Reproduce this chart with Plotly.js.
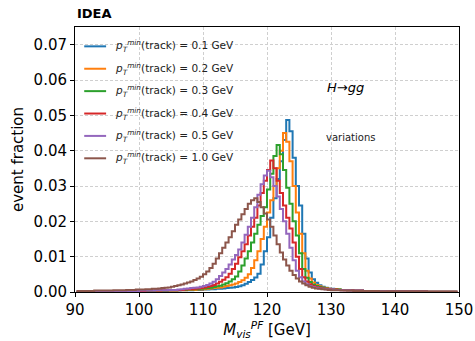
<!DOCTYPE html>
<html>
<head>
<meta charset="utf-8">
<script src="https://cdn.plot.ly/plotly-3.0.1.min.js"></script>
<style>
  html, body { margin: 0; padding: 0; background: #fff; }
  #chart { width: 475px; height: 341px; }
</style>
</head>
<body>
<div id="chart"></div>
<script>
// Histogram binning (GeV)
const binStart = 90;
const binWidth = 0.5;

const seriesLabels = ["0.1", "0.2", "0.3", "0.4", "0.5", "1.0"];
const seriesColors = ["#1f77b4", "#ff7f0e", "#2ca02c", "#d62728", "#9467bd", "#8c564b"];

// event fraction per 0.5 GeV bin, 90 -> 150 GeV (10 bins per row = 5 GeV)
const pt01 = [
  0.0001,0.0001,0.0001,0.0001,0.0001,0.0001,0.0001,0.0001,0.0001,0.0001,
  0.0001,0.0001,0.0001,0.0001,0.0002,0.0002,0.0002,0.0002,0.0002,0.0002,
  0.0002,0.0002,0.0002,0.0003,0.0003,0.0003,0.0003,0.0003,0.0003,0.0004,
  0.0004,0.0004,0.0004,0.0005,0.0005,0.0005,0.0005,0.0006,0.0006,0.0006,
  0.0007,0.0007,0.0008,0.0008,0.0009,0.0009,0.0010,0.0011,0.0012,0.0013,
  0.0014,0.0016,0.0019,0.0023,0.0028,0.0034,0.0041,0.0052,0.0078,0.0115,
  0.0155,0.0210,0.0265,0.0320,0.0370,0.0430,0.0487,0.0455,0.0380,0.0300,
  0.0245,0.0165,0.0095,0.0055,0.0036,0.0026,0.0019,0.0015,0.0012,0.0010,
  0.0009,0.0008,0.0007,0.0006,0.0006,0.0005,0.0005,0.0004,0.0004,0.0004,
  0.0003,0.0003,0.0003,0.0003,0.0003,0.0003,0.0003,0.0002,0.0002,0.0002,
  0.0002,0.0002,0.0002,0.0002,0.0002,0.0002,0.0002,0.0002,0.0002,0.0002,
  0.0001,0.0001,0.0001,0.0001,0.0001,0.0001,0.0001,0.0001,0.0001,0.0001
];
const pt02 = [
  0.0001,0.0001,0.0001,0.0001,0.0001,0.0001,0.0001,0.0001,0.0001,0.0001,
  0.0001,0.0001,0.0002,0.0002,0.0002,0.0002,0.0002,0.0002,0.0002,0.0002,
  0.0002,0.0002,0.0003,0.0003,0.0003,0.0003,0.0003,0.0004,0.0004,0.0004,
  0.0004,0.0004,0.0005,0.0005,0.0005,0.0006,0.0006,0.0006,0.0007,0.0007,
  0.0008,0.0009,0.0010,0.0011,0.0012,0.0013,0.0015,0.0017,0.0019,0.0021,
  0.0024,0.0028,0.0033,0.0040,0.0050,0.0068,0.0090,0.0115,0.0150,0.0185,
  0.0225,0.0260,0.0300,0.0350,0.0400,0.0450,0.0425,0.0370,0.0300,0.0225,
  0.0165,0.0110,0.0060,0.0038,0.0027,0.0020,0.0016,0.0013,0.0011,0.0009,
  0.0008,0.0008,0.0007,0.0006,0.0006,0.0005,0.0005,0.0004,0.0004,0.0004,
  0.0003,0.0003,0.0003,0.0003,0.0003,0.0003,0.0003,0.0002,0.0002,0.0002,
  0.0002,0.0002,0.0002,0.0002,0.0002,0.0002,0.0002,0.0002,0.0002,0.0002,
  0.0001,0.0001,0.0001,0.0001,0.0001,0.0001,0.0001,0.0001,0.0001,0.0001
];
const pt03 = [
  0.0001,0.0001,0.0001,0.0001,0.0001,0.0001,0.0001,0.0001,0.0002,0.0002,
  0.0002,0.0002,0.0002,0.0002,0.0002,0.0002,0.0002,0.0002,0.0002,0.0003,
  0.0003,0.0003,0.0003,0.0003,0.0003,0.0004,0.0004,0.0004,0.0004,0.0005,
  0.0005,0.0005,0.0006,0.0006,0.0006,0.0007,0.0007,0.0008,0.0008,0.0009,
  0.0010,0.0011,0.0012,0.0014,0.0016,0.0018,0.0021,0.0025,0.0030,0.0036,
  0.0044,0.0058,0.0075,0.0095,0.0115,0.0140,0.0165,0.0190,0.0215,0.0240,
  0.0290,0.0335,0.0385,0.0416,0.0390,0.0345,0.0295,0.0250,0.0200,0.0160,
  0.0110,0.0065,0.0040,0.0028,0.0021,0.0017,0.0014,0.0012,0.0010,0.0008,
  0.0008,0.0007,0.0007,0.0006,0.0006,0.0005,0.0005,0.0004,0.0004,0.0004,
  0.0003,0.0003,0.0003,0.0003,0.0003,0.0003,0.0003,0.0002,0.0002,0.0002,
  0.0002,0.0002,0.0002,0.0002,0.0002,0.0002,0.0002,0.0002,0.0002,0.0002,
  0.0001,0.0001,0.0001,0.0001,0.0001,0.0001,0.0001,0.0001,0.0001,0.0001
];
const pt04 = [
  0.0001,0.0001,0.0001,0.0001,0.0002,0.0002,0.0002,0.0002,0.0002,0.0002,
  0.0002,0.0002,0.0002,0.0002,0.0002,0.0003,0.0003,0.0003,0.0003,0.0003,
  0.0003,0.0003,0.0004,0.0004,0.0004,0.0004,0.0004,0.0005,0.0005,0.0005,
  0.0005,0.0005,0.0006,0.0006,0.0007,0.0008,0.0008,0.0009,0.0010,0.0011,
  0.0013,0.0015,0.0017,0.0020,0.0024,0.0029,0.0035,0.0042,0.0052,0.0065,
  0.0080,0.0098,0.0115,0.0135,0.0160,0.0185,0.0210,0.0245,0.0280,0.0315,
  0.0345,0.0372,0.0350,0.0315,0.0280,0.0245,0.0210,0.0180,0.0140,0.0100,
  0.0065,0.0042,0.0030,0.0022,0.0017,0.0014,0.0012,0.0010,0.0009,0.0008,
  0.0007,0.0007,0.0006,0.0006,0.0005,0.0005,0.0005,0.0004,0.0004,0.0004,
  0.0003,0.0003,0.0003,0.0003,0.0003,0.0003,0.0003,0.0002,0.0002,0.0002,
  0.0002,0.0002,0.0002,0.0002,0.0002,0.0002,0.0002,0.0002,0.0002,0.0002,
  0.0001,0.0001,0.0001,0.0001,0.0001,0.0001,0.0001,0.0001,0.0001,0.0001
];
const pt05 = [
  0.0002,0.0002,0.0002,0.0002,0.0002,0.0002,0.0002,0.0002,0.0002,0.0002,
  0.0002,0.0002,0.0003,0.0003,0.0003,0.0003,0.0003,0.0003,0.0003,0.0003,
  0.0004,0.0004,0.0004,0.0004,0.0004,0.0005,0.0005,0.0005,0.0005,0.0006,
  0.0006,0.0006,0.0007,0.0008,0.0009,0.0010,0.0011,0.0012,0.0013,0.0015,
  0.0017,0.0020,0.0024,0.0029,0.0036,0.0045,0.0055,0.0065,0.0078,0.0092,
  0.0105,0.0120,0.0140,0.0162,0.0185,0.0210,0.0240,0.0275,0.0305,0.0330,
  0.0343,0.0325,0.0300,0.0270,0.0235,0.0200,0.0165,0.0125,0.0090,0.0060,
  0.0042,0.0030,0.0022,0.0017,0.0014,0.0012,0.0010,0.0009,0.0008,0.0007,
  0.0007,0.0006,0.0006,0.0005,0.0005,0.0005,0.0004,0.0004,0.0004,0.0004,
  0.0003,0.0003,0.0003,0.0003,0.0003,0.0003,0.0003,0.0002,0.0002,0.0002,
  0.0002,0.0002,0.0002,0.0002,0.0002,0.0002,0.0002,0.0002,0.0002,0.0002,
  0.0001,0.0001,0.0001,0.0001,0.0001,0.0001,0.0001,0.0001,0.0001,0.0001
];
const pt10 = [
  0.0003,0.0003,0.0003,0.0003,0.0003,0.0003,0.0004,0.0004,0.0004,0.0004,
  0.0004,0.0004,0.0005,0.0005,0.0005,0.0005,0.0006,0.0006,0.0006,0.0007,
  0.0007,0.0007,0.0008,0.0008,0.0009,0.0009,0.0010,0.0011,0.0012,0.0013,
  0.0015,0.0017,0.0019,0.0021,0.0024,0.0027,0.0030,0.0034,0.0038,0.0043,
  0.0050,0.0058,0.0068,0.0080,0.0095,0.0110,0.0125,0.0140,0.0155,0.0172,
  0.0190,0.0205,0.0220,0.0235,0.0250,0.0260,0.0265,0.0255,0.0240,0.0222,
  0.0205,0.0185,0.0160,0.0135,0.0112,0.0092,0.0075,0.0060,0.0048,0.0038,
  0.0030,0.0024,0.0019,0.0015,0.0012,0.0010,0.0009,0.0008,0.0007,0.0006,
  0.0005,0.0005,0.0005,0.0004,0.0004,0.0004,0.0004,0.0003,0.0003,0.0003,
  0.0003,0.0003,0.0003,0.0003,0.0003,0.0002,0.0002,0.0002,0.0002,0.0002,
  0.0002,0.0002,0.0002,0.0002,0.0002,0.0002,0.0002,0.0002,0.0002,0.0002,
  0.0001,0.0001,0.0001,0.0001,0.0001,0.0001,0.0001,0.0001,0.0001,0.0001
];

const seriesValues = [pt01, pt02, pt03, pt04, pt05, pt10];

const xTickVals = [90, 100, 110, 120, 130, 140, 150];
const yTickVals = [0.00, 0.01, 0.02, 0.03, 0.04, 0.05, 0.06, 0.07];

const FONT = "DejaVu Sans, Liberation Sans, sans-serif";

function seriesName(k) {
  return "<i>p</i><sub><i>T</i></sub><sup><i>min</i></sup>(track) = " + seriesLabels[k] + " GeV";
}

const traces = seriesValues.map((vals, k) => ({
  type: "scatter",
  mode: "lines",
  x: vals.map((_, i) => binStart + binWidth * (i + 0.5)),
  y: vals,
  line: { shape: "hvh", color: seriesColors[k], width: 2 },
  name: seriesName(k),
  showlegend: false
}));

// Hand-placed legend (paper coordinates) to match matplotlib spacing
const legTop = 0.927, legStep = 0.0845;
const legX0 = 0.024, legX1 = 0.081, legTextX = 0.098;
const legendShapes = seriesLabels.map((_, k) => ({
  type: "line", xref: "paper", yref: "paper",
  x0: legX0, x1: legX1, y0: legTop - k * legStep, y1: legTop - k * legStep,
  line: { color: seriesColors[k], width: 2 }
}));
const legendTexts = seriesLabels.map((_, k) => ({
  text: seriesName(k),
  xref: "paper", yref: "paper", x: legTextX, y: legTop - k * legStep,
  xanchor: "left", yanchor: "middle", showarrow: false,
  font: { family: FONT, size: 10.5, color: "#222" }
}));

const layout = {
  width: 475,
  height: 341,
  margin: { l: 75, r: 16, t: 27, b: 49 },
  paper_bgcolor: "#ffffff",
  plot_bgcolor: "#ffffff",
  font: { family: FONT, color: "#000", size: 15 },
  title: {
    text: "<b>IDEA</b>",
    font: { family: FONT, size: 13, color: "#000" },
    xref: "paper", x: 0.005, xanchor: "left",
    yref: "container", y: 0.962, yanchor: "middle"
  },
  showlegend: false,
  xaxis: {
    range: [90, 150],
    tickvals: xTickVals,
    ticktext: xTickVals.map(String),
    ticks: "outside", ticklen: 4, tickcolor: "#000",
    showline: true, mirror: true, linecolor: "#000", linewidth: 1,
    showgrid: true, gridcolor: "#cfcfcf", griddash: "3px,2px", gridwidth: 1,
    zeroline: false,
    tickfont: { family: FONT, size: 15, color: "#000" },
    title: {
      text: "<i>M</i><sub><i>vis</i></sub><sup><i>PF</i></sup> [GeV]",
      font: { family: FONT, size: 15, color: "#000" },
      standoff: 4
    }
  },
  yaxis: {
    range: [0, 0.075],
    tickvals: yTickVals,
    ticktext: yTickVals.map(v => v.toFixed(2)),
    ticks: "outside", ticklen: 4, tickcolor: "#000",
    showline: true, mirror: true, linecolor: "#000", linewidth: 1,
    showgrid: true, gridcolor: "#cfcfcf", griddash: "3px,2px", gridwidth: 1,
    zeroline: false,
    tickfont: { family: FONT, size: 15, color: "#000" },
    title: {
      text: "event fraction",
      font: { family: FONT, size: 15, color: "#000" },
      standoff: 6
    }
  },
  shapes: legendShapes,
  annotations: legendTexts.concat([
    {
      text: "<i>H</i>→<i>gg</i>",
      xref: "x", yref: "y", x: 129, y: 0.0578,
      xanchor: "left", yanchor: "middle", showarrow: false,
      font: { family: FONT, size: 13, color: "#000" }
    },
    {
      text: "variations",
      xref: "x", yref: "y", x: 128.9, y: 0.0436,
      xanchor: "left", yanchor: "middle", showarrow: false,
      font: { family: FONT, size: 10, color: "#222" }
    }
  ])
};

Plotly.newPlot("chart", traces, layout, { displayModeBar: false, staticPlot: true });
</script>
</body>
</html>
